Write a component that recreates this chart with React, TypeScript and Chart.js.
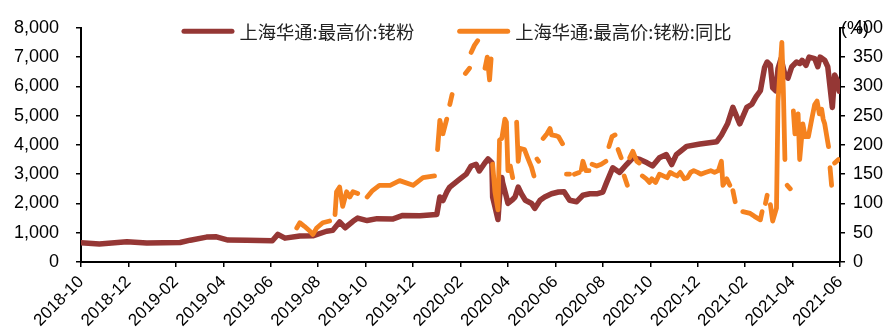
import { useEffect, useRef } from 'react';
import { Chart, registerables } from 'chart.js';

Chart.register(...registerables);

// Axis tick labels (every second month)
const tickLabels = [
  '2018-10', '2018-12', '2019-02', '2019-04', '2019-06', '2019-08', '2019-10', '2019-12',
  '2020-02', '2020-04', '2020-06', '2020-08', '2020-10', '2020-12', '2021-02', '2021-04', '2021-06',
];

const seriesNames = ['上海华通:最高价:铑粉', '上海华通:最高价:铑粉:同比'];
const unitLabel = '(%)';

// Rhodium powder, highest price (left axis)
const priceDates = [
  '2018-10-01', '2018-10-25', '2018-11-29', '2018-12-25', '2019-02-06', '2019-02-18', '2019-03-10', '2019-03-23',
  '2019-04-07', '2019-05-01', '2019-06-03', '2019-06-10', '2019-06-19', '2019-07-08', '2019-07-25', '2019-08-12',
  '2019-08-20', '2019-08-29', '2019-09-05', '2019-09-15', '2019-09-21', '2019-10-03', '2019-10-16', '2019-11-05',
  '2019-11-18', '2019-12-10', '2019-12-27', '2020-01-01', '2020-01-05', '2020-01-09', '2020-01-14', '2020-01-18',
  '2020-01-31', '2020-02-08', '2020-02-14', '2020-02-20', '2020-02-24', '2020-03-02', '2020-03-06', '2020-03-11',
  '2020-03-12', '2020-03-15', '2020-03-19', '2020-03-21', '2020-03-24', '2020-03-25', '2020-03-30', '2020-04-01',
  '2020-04-06', '2020-04-10', '2020-04-14', '2020-04-18', '2020-04-23', '2020-05-01', '2020-05-05', '2020-05-12',
  '2020-05-18', '2020-05-27', '2020-06-05', '2020-06-12', '2020-06-19', '2020-06-28', '2020-07-06', '2020-07-15',
  '2020-07-24', '2020-08-01', '2020-08-06', '2020-08-14', '2020-08-23', '2020-09-01', '2020-09-09', '2020-09-18',
  '2020-09-27', '2020-10-04', '2020-10-13', '2020-10-22', '2020-10-29', '2020-11-04', '2020-11-17', '2020-12-04',
  '2020-12-26', '2021-01-01', '2021-01-09', '2021-01-16', '2021-01-25', '2021-02-03', '2021-02-09', '2021-02-14',
  '2021-02-19', '2021-02-24', '2021-02-27', '2021-03-03', '2021-03-06', '2021-03-10', '2021-03-13', '2021-03-17',
  '2021-03-22', '2021-03-26', '2021-03-31', '2021-04-06', '2021-04-10', '2021-04-13', '2021-04-18', '2021-04-22',
  '2021-04-29', '2021-05-03', '2021-05-06', '2021-05-12', '2021-05-16', '2021-05-22', '2021-05-25', '2021-05-29',
  '2021-05-31',
];
const priceValues = [
  660, 615, 690, 650, 665, 745, 850, 860,
  750, 745, 725, 945, 815, 890, 895, 1050,
  1080, 1370, 1170, 1390, 1500, 1415, 1480, 1465,
  1590, 1580, 1610, 1620, 2220, 2100, 2390, 2560,
  2830, 3000, 3280, 3340, 3110, 3390, 3520, 3390,
  2220, 1890, 1450, 2220, 2890, 2720, 2220, 2000,
  2110, 2220, 2560, 2330, 2110, 2000, 1830, 2110,
  2220, 2330, 2390, 2400, 2110, 2060, 2280, 2330,
  2330, 2390, 2720, 3220, 3060, 3330, 3560, 3500,
  3390, 3280, 3560, 3670, 3330, 3670, 3950, 4030,
  4110, 4330, 4720, 5280, 4720, 5280, 5390, 5650,
  5850, 6650, 6830, 6720, 5950, 5850, 6610, 6950,
  6390, 6280, 6670, 6830, 6780, 6890, 6720, 7000,
  6950, 6670, 7000, 6890, 6670, 5280, 6390, 6170,
  5830,
];

// Year-on-year change in % (right axis); null marks dates without a quote
const yoyDates = [
  '2019-07-04', '2019-07-08', '2019-07-14', '2019-07-21', '2019-07-25', '2019-07-30', '2019-08-07', '2019-08-16',
  '2019-08-20', '2019-08-23', '2019-08-25', '2019-08-29', '2019-09-02', '2019-09-07', '2019-09-11', '2019-09-15',
  '2019-09-21', '2019-09-28', '2019-10-03', '2019-10-10', '2019-10-19', '2019-11-02', '2019-11-14', '2019-12-01',
  '2019-12-14', '2019-12-29', '2019-12-31', '2020-01-02', '2020-01-05', '2020-01-09', '2020-01-14', '2020-01-16',
  '2020-01-18', '2020-01-21', '2020-01-25', '2020-02-07', '2020-02-12', '2020-02-13', '2020-02-14', '2020-02-18',
  '2020-02-22', '2020-02-26', '2020-03-02', '2020-03-05', '2020-03-08', '2020-03-10', '2020-03-11', '2020-03-12',
  '2020-03-15', '2020-03-19', '2020-03-21', '2020-03-24', '2020-03-28', '2020-03-30', '2020-04-01', '2020-04-04',
  '2020-04-07', '2020-04-10', '2020-04-12', '2020-04-14', '2020-04-16', '2020-04-22', '2020-04-26', '2020-05-01',
  '2020-05-04', '2020-05-06', '2020-05-08', '2020-05-10', '2020-05-12', '2020-05-16', '2020-05-21', '2020-05-25',
  '2020-05-27', '2020-06-01', '2020-06-05', '2020-06-10', '2020-06-13', '2020-06-15', '2020-06-19', '2020-06-21',
  '2020-06-25', '2020-07-01', '2020-07-02', '2020-07-04', '2020-07-06', '2020-07-10', '2020-07-14', '2020-07-16',
  '2020-07-18', '2020-07-24', '2020-07-30', '2020-08-05', '2020-08-07', '2020-08-09', '2020-08-13', '2020-08-17',
  '2020-08-18', '2020-08-21', '2020-08-25', '2020-08-26', '2020-08-29', '2020-09-02', '2020-09-03', '2020-09-05',
  '2020-09-09', '2020-09-14', '2020-09-17', '2020-09-19', '2020-09-21', '2020-09-26', '2020-09-30', '2020-10-03',
  '2020-10-08', '2020-10-13', '2020-10-18', '2020-10-23', '2020-10-27', '2020-10-31', '2020-11-05', '2020-11-09',
  '2020-11-14', '2020-11-18', '2020-11-22', '2020-11-26', '2020-12-01', '2020-12-05', '2020-12-11', '2020-12-18',
  '2020-12-23', '2020-12-28', '2021-01-01', '2021-01-03', '2021-01-08', '2021-01-12', '2021-01-14', '2021-01-16',
  '2021-01-19', '2021-01-25', '2021-01-29', '2021-02-07', '2021-02-12', '2021-02-19', '2021-02-21', '2021-02-22',
  '2021-02-25', '2021-02-27', '2021-02-28', '2021-03-03', '2021-03-06', '2021-03-11', '2021-03-13', '2021-03-18',
  '2021-03-20', '2021-03-22', '2021-03-23', '2021-03-25', '2021-03-29', '2021-03-31', '2021-04-02', '2021-04-04',
  '2021-04-08', '2021-04-10', '2021-04-14', '2021-04-17', '2021-04-21', '2021-04-25', '2021-04-29', '2021-05-02',
  '2021-05-05', '2021-05-08', '2021-05-10', '2021-05-12', '2021-05-17', '2021-05-18', '2021-05-19', '2021-05-21',
  '2021-05-23', '2021-05-25', '2021-05-30',
];
const yoyValues: (number | null)[] = [
  58, 67, 61, 53, 47, 58, 67, 70,
  null, 81, 120, 128, 95, 120, 111, 120,
  117, null, 111, 122, 131, 131, 139, 131,
  144, 147, null, 192, 242, 219, 244, null,
  269, 286, null, 322, 331, null, 358, 370,
  378, null, 331, 350, 311, 347, null, 167,
  120, 89, 208, 211, 244, 239, 156, 164,
  144, null, 239, 172, 194, 192, 178, 161,
  147, null, 176, 172, null, 211, 219, 228,
  217, 216, 214, 202, null, 150, 150, null,
  150, 153, null, 158, 172, 156, 156, null,
  167, 164, 167, 172, null, 197, 214, 217,
  null, 192, 178, null, 147, 131, null, 178,
  189, 172, 169, null, 147, 142, 136, 142,
  136, 150, 147, 144, 153, 150, 147, 153,
  142, 144, 153, 156, 153, 150, 153, 156,
  153, 156, 172, 131, 142, 131, null, 122,
  103, null, 86, 83, 78, 72, 86, null,
  100, 114, null, 98, 70, 92, 275, 375,
  292, 175, null, 131, 125, null, 258, 219,
  253, 175, 236, 214, 214, 242, 269, 275,
  253, 261, 244, 236, 197, null, 161, 131,
  null, 169, 175,
];

const START_YEAR = 2018;
const START_MONTH = 10;

// Position of a date on the x axis, in months since the first tick
function monthOffset(date: string): number {
  const [y, m, d] = date.split('-').map(Number);
  const daysInMonth = new Date(y, m, 0).getDate();
  return (y - START_YEAR) * 12 + (m - START_MONTH) + (d - 1) / daysInMonth;
}

const PRICE_COLOR = '#953735';
const YOY_COLOR = '#F5821F';
const FONT_FAMILY = '"Liberation Sans", Arial, sans-serif';
const Y_TICK_FONT = { family: FONT_FAMILY, size: 18 };
const X_TICK_FONT = { family: FONT_FAMILY, size: 17 };
const LEGEND_FONT = '18.3px "Noto Sans CJK SC", sans-serif';

const overlayPlugin = {
  id: 'legendAndUnit',
  afterDraw(chart: any) {
    const { ctx, chartArea } = chart;
    ctx.save();
    // legend across the top of the plot
    ctx.font = LEGEND_FONT;
    ctx.textBaseline = 'middle';
    const swatch = 53;
    const gap = 5;
    const spacing = 43;
    const items = chart.data.datasets.map((ds: any) => ({
      label: ds.label as string,
      color: ds.borderColor as string,
      w: ctx.measureText(ds.label).width,
    }));
    const total = items.reduce((s: number, it: any) => s + swatch + gap + it.w, 0) + spacing * (items.length - 1);
    let x = (chartArea.left + chartArea.right) / 2 - total / 2 - 4;
    const y = chartArea.top + 3.5;
    for (const it of items) {
      ctx.strokeStyle = it.color;
      ctx.lineWidth = 5;
      ctx.lineCap = 'round';
      ctx.beginPath();
      ctx.moveTo(x + 2.5, y);
      ctx.lineTo(x + swatch - 2.5, y);
      ctx.stroke();
      ctx.fillStyle = '#222';
      ctx.textAlign = 'left';
      ctx.fillText(it.label, x + swatch + gap, y + 1);
      x += swatch + gap + it.w + spacing;
    }
    // unit of the right axis
    ctx.font = `${Y_TICK_FONT.size}px ${FONT_FAMILY}`;
    ctx.fillStyle = '#000';
    ctx.textAlign = 'left';
    ctx.fillText(unitLabel, chartArea.right + 1, chartArea.top + 1);
    ctx.restore();
  },
};

export default function App() {
  const canvasRef = useRef<HTMLCanvasElement | null>(null);

  useEffect(() => {
    if (!canvasRef.current) return;
    const chart = new Chart(canvasRef.current, {
      type: 'line',
      data: {
        datasets: [
          {
            label: seriesNames[0],
            data: priceDates.map((d, i) => ({ x: monthOffset(d), y: priceValues[i] })),
            borderColor: PRICE_COLOR,
            backgroundColor: PRICE_COLOR,
            borderWidth: 5.5,
            pointRadius: 0,
            borderCapStyle: 'round',
            borderJoinStyle: 'round',
            yAxisID: 'y',
            order: 2,
          },
          {
            label: seriesNames[1],
            data: yoyDates.map((d, i) => ({ x: monthOffset(d), y: yoyValues[i] })),
            borderColor: YOY_COLOR,
            backgroundColor: YOY_COLOR,
            borderWidth: 4.8,
            pointRadius: 0,
            borderCapStyle: 'round',
            borderJoinStyle: 'round',
            spanGaps: false,
            yAxisID: 'y1',
            order: 1,
          },
        ],
      },
      options: {
        animation: false,
        responsive: false,
        devicePixelRatio: 1,
        layout: { padding: { top: 22, left: 0, right: 0, bottom: 0 } },
        plugins: { legend: { display: false }, tooltip: { enabled: false } },
        scales: {
          x: {
            type: 'linear',
            min: 0,
            max: 32,
            ticks: {
              stepSize: 2,
              autoSkip: false,
              maxRotation: 45,
              minRotation: 45,
              padding: 5,
              color: '#000',
              font: X_TICK_FONT,
              callback: (v: any) => tickLabels[Math.round(Number(v) / 2)] ?? '',
            },
            grid: { drawOnChartArea: false, drawTicks: true, tickLength: 5, color: '#000', lineWidth: 1.5 },
            border: { display: true, color: '#000', width: 2 },
            afterFit: (s: any) => { s.height = 71; },
          },
          y: {
            position: 'left',
            min: 0,
            max: 8000,
            ticks: {
              stepSize: 1000,
              padding: 17,
              color: '#000',
              font: Y_TICK_FONT,
              callback: (v: any) => Number(v).toLocaleString('en-US'),
            },
            grid: { drawOnChartArea: false, drawTicks: true, tickLength: 5, color: '#000', lineWidth: 1.5 },
            border: { display: true, color: '#000', width: 2 },
            afterFit: (s: any) => { s.width = 81; },
          },
          y1: {
            position: 'right',
            min: 0,
            max: 400,
            ticks: { stepSize: 50, padding: 8, color: '#000', font: Y_TICK_FONT },
            grid: { drawOnChartArea: false, drawTicks: true, tickLength: 5, color: '#000', lineWidth: 1.5 },
            border: { display: true, color: '#000', width: 2 },
            afterFit: (s: any) => { s.width = 50; },
          },
        },
      },
      plugins: [overlayPlugin],
    });
    return () => chart.destroy();
  }, []);

  return (
    <div style={{ position: 'fixed', left: 0, top: 0, width: 890, height: 333, background: '#fff' }}>
      <canvas ref={canvasRef} width={890} height={333} />
    </div>
  );
}
